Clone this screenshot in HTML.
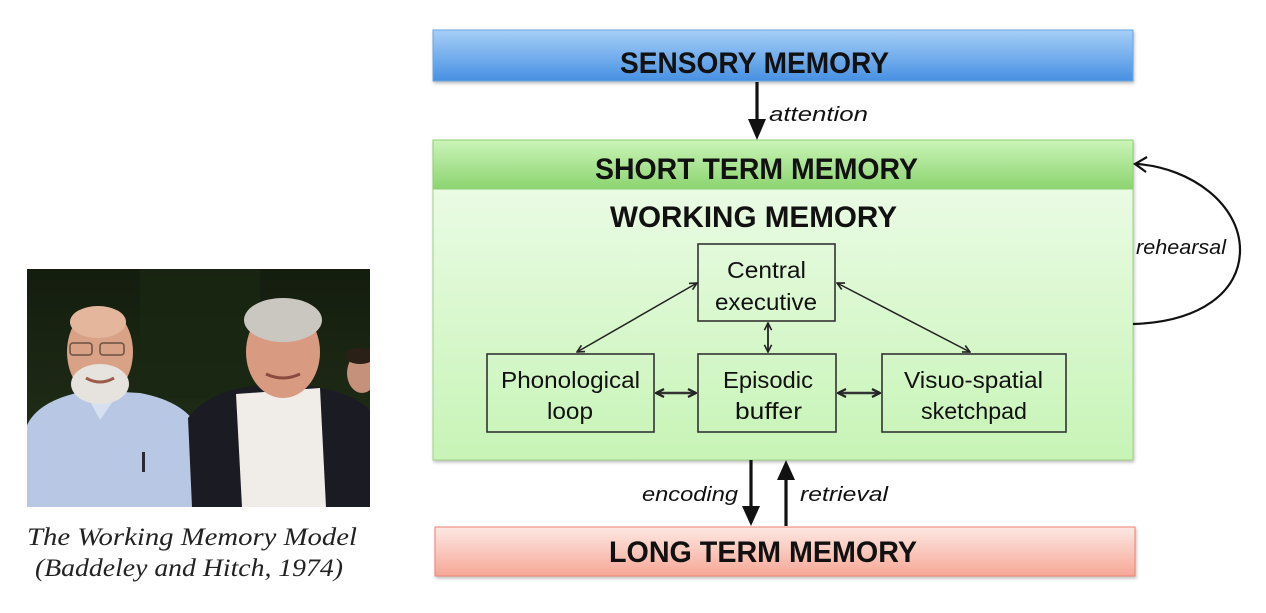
<!DOCTYPE html>
<html>
<head>
<meta charset="utf-8">
<style>
  html, body { margin: 0; padding: 0; background: #ffffff; }
  body { width: 1266px; height: 613px; overflow: hidden; }
  svg { display: block; }
</style>
</head>
<body>
<svg width="1266" height="613" viewBox="0 0 1266 613" xmlns="http://www.w3.org/2000/svg">
  <defs>
    <linearGradient id="gBlue" x1="0" y1="0" x2="0" y2="1">
      <stop offset="0" stop-color="#a6cff7"/>
      <stop offset="1" stop-color="#4790e2"/>
    </linearGradient>
    <linearGradient id="gHead" x1="0" y1="0" x2="0" y2="1">
      <stop offset="0" stop-color="#cbf5b8"/>
      <stop offset="1" stop-color="#8cd470"/>
    </linearGradient>
    <linearGradient id="gPanel" x1="0" y1="0" x2="0" y2="1">
      <stop offset="0" stop-color="#f0fcec"/>
      <stop offset="1" stop-color="#c7f4b6"/>
    </linearGradient>
    <linearGradient id="gRed" x1="0" y1="0" x2="0" y2="1">
      <stop offset="0" stop-color="#fde8e3"/>
      <stop offset="1" stop-color="#f6a796"/>
    </linearGradient>
    <linearGradient id="gPhotoBg" x1="0" y1="0" x2="0" y2="1">
      <stop offset="0" stop-color="#141d0e"/>
      <stop offset="1" stop-color="#24331a"/>
    </linearGradient>
    <clipPath id="photoClip">
      <rect x="27" y="269" width="343" height="238"/>
    </clipPath>
    <filter id="sh" x="-5%" y="-20%" width="110%" height="150%">
      <feDropShadow dx="1" dy="2" stdDeviation="1.5" flood-color="#000" flood-opacity="0.25"/>
    </filter>
    <marker id="chev" viewBox="0 0 10 10" refX="9" refY="5" markerWidth="9" markerHeight="9" markerUnits="userSpaceOnUse" orient="auto-start-reverse">
      <path d="M1,1 L9,5 L1,9" fill="none" stroke="#222" stroke-width="1.8"/>
    </marker>
    <marker id="chevB" viewBox="0 0 10 10" refX="9" refY="5" markerWidth="10" markerHeight="10" markerUnits="userSpaceOnUse" orient="auto-start-reverse">
      <path d="M1,1 L9,5 L1,9" fill="none" stroke="#222" stroke-width="2.2"/>
    </marker>
  </defs>

  <!-- ============ PHOTO ============ -->
  <g clip-path="url(#photoClip)">
    <rect x="27" y="269" width="343" height="238" fill="url(#gPhotoBg)"/>
    <rect x="140" y="269" width="120" height="130" fill="#1a2812" opacity="0.7"/>
    <!-- left person shirt -->
    <path d="M27,425 Q40,398 92,390 L140,393 Q188,402 200,432 L206,507 L27,507 Z" fill="#b8c8e4"/>
    <path d="M85,392 L100,420 L118,394 Z" fill="#d6e0f0"/>
    <rect x="142" y="452" width="3" height="20" fill="#2a2a35"/>
    <!-- left person head -->
    <ellipse cx="100" cy="352" rx="33" ry="45" fill="#d9a287"/>
    <ellipse cx="98" cy="322" rx="28" ry="16" fill="#e4b79d"/>
    <ellipse cx="100" cy="384" rx="29" ry="20" fill="#e6e2de"/>
    <path d="M86,378 Q100,386 114,378" stroke="#9b5a4a" stroke-width="3" fill="none"/>
    <rect x="70" y="343" width="22" height="12" rx="3" fill="none" stroke="#6a5040" stroke-width="1.5"/>
    <rect x="100" y="343" width="24" height="12" rx="3" fill="none" stroke="#6a5040" stroke-width="1.5"/>
    <!-- right person jacket -->
    <path d="M188,418 Q210,390 255,386 L310,386 Q352,392 370,410 L370,507 L192,507 Z" fill="#1b1b24"/>
    <!-- white shirt -->
    <path d="M236,394 L320,388 L326,507 L242,507 Z" fill="#f0ece8"/>
    <!-- right person head -->
    <ellipse cx="283" cy="352" rx="37" ry="46" fill="#d89a80"/>
    <ellipse cx="283" cy="320" rx="39" ry="22" fill="#cac7c1"/>
    <path d="M266,374 Q283,382 300,374" stroke="#8a4a40" stroke-width="3" fill="none"/>
    <!-- third face -->
    <ellipse cx="362" cy="373" rx="15" ry="20" fill="#c6917a"/>
    <ellipse cx="360" cy="356" rx="15" ry="8" fill="#2a2018"/>
  </g>

  <!-- caption -->
  <text x="27" y="545" font-family="Liberation Serif, serif" font-style="italic" font-size="25" fill="#222" textLength="330" lengthAdjust="spacingAndGlyphs">The Working Memory Model</text>
  <text x="35" y="576" font-family="Liberation Serif, serif" font-style="italic" font-size="25" fill="#222" textLength="308" lengthAdjust="spacingAndGlyphs">(Baddeley and Hitch, 1974)</text>

  <!-- ============ SENSORY MEMORY ============ -->
  <rect x="433" y="30" width="700" height="51" fill="url(#gBlue)" stroke="#6aa6e2" stroke-width="1" filter="url(#sh)"/>
  <text x="620" y="73" font-family="Liberation Sans, sans-serif" font-weight="bold" font-size="30" fill="#111" textLength="269" lengthAdjust="spacingAndGlyphs">SENSORY MEMORY</text>

  <!-- attention arrow -->
  <line x1="757" y1="82" x2="757" y2="120" stroke="#111" stroke-width="3.2"/>
  <polygon points="748,119 766,119 757,140" fill="#111"/>
  <text x="769" y="121" font-family="Liberation Sans, sans-serif" font-style="italic" font-size="20" fill="#111" textLength="99" lengthAdjust="spacingAndGlyphs">attention</text>

  <!-- ============ SHORT TERM MEMORY PANEL ============ -->
  <rect x="433" y="140" width="700" height="320" fill="url(#gPanel)" stroke="#9ed486" stroke-width="1" filter="url(#sh)"/>
  <rect x="433" y="140" width="700" height="49" fill="url(#gHead)" stroke="#8fcf74" stroke-width="1"/>
  <text x="595" y="179" font-family="Liberation Sans, sans-serif" font-weight="bold" font-size="30" fill="#111" textLength="323" lengthAdjust="spacingAndGlyphs">SHORT TERM MEMORY</text>
  <text x="610" y="227" font-family="Liberation Sans, sans-serif" font-weight="bold" font-size="30" fill="#111" textLength="287" lengthAdjust="spacingAndGlyphs">WORKING MEMORY</text>

  <!-- boxes -->
  <rect x="698" y="244" width="137" height="77" fill="none" stroke="#333" stroke-width="1.6"/>
  <text x="727" y="278" font-family="Liberation Sans, sans-serif" font-size="23" fill="#111" textLength="79" lengthAdjust="spacingAndGlyphs">Central</text>
  <text x="715" y="310" font-family="Liberation Sans, sans-serif" font-size="23" fill="#111" textLength="102" lengthAdjust="spacingAndGlyphs">executive</text>

  <rect x="487" y="354" width="167" height="78" fill="none" stroke="#333" stroke-width="1.6"/>
  <text x="501" y="388" font-family="Liberation Sans, sans-serif" font-size="23" fill="#111" textLength="139" lengthAdjust="spacingAndGlyphs">Phonological</text>
  <text x="547" y="419" font-family="Liberation Sans, sans-serif" font-size="23" fill="#111" textLength="46" lengthAdjust="spacingAndGlyphs">loop</text>

  <rect x="698" y="354" width="138" height="78" fill="none" stroke="#333" stroke-width="1.6"/>
  <text x="723" y="388" font-family="Liberation Sans, sans-serif" font-size="23" fill="#111" textLength="90" lengthAdjust="spacingAndGlyphs">Episodic</text>
  <text x="735" y="419" font-family="Liberation Sans, sans-serif" font-size="23" fill="#111" textLength="67" lengthAdjust="spacingAndGlyphs">buffer</text>

  <rect x="882" y="354" width="184" height="78" fill="none" stroke="#333" stroke-width="1.6"/>
  <text x="904" y="388" font-family="Liberation Sans, sans-serif" font-size="23" fill="#111" textLength="139" lengthAdjust="spacingAndGlyphs">Visuo-spatial</text>
  <text x="921" y="419" font-family="Liberation Sans, sans-serif" font-size="23" fill="#111" textLength="106" lengthAdjust="spacingAndGlyphs">sketchpad</text>

  <!-- internal arrows -->
  <line x1="697" y1="283" x2="577" y2="352" stroke="#222" stroke-width="1.5" marker-start="url(#chev)" marker-end="url(#chev)"/>
  <line x1="837" y1="283" x2="970" y2="352" stroke="#222" stroke-width="1.5" marker-start="url(#chev)" marker-end="url(#chev)"/>
  <line x1="768" y1="323" x2="768" y2="352" stroke="#222" stroke-width="1.8" marker-start="url(#chev)" marker-end="url(#chev)"/>
  <line x1="656" y1="393" x2="696" y2="393" stroke="#333" stroke-width="2.6" marker-start="url(#chevB)" marker-end="url(#chevB)"/>
  <line x1="838" y1="393" x2="880" y2="393" stroke="#333" stroke-width="2.6" marker-start="url(#chevB)" marker-end="url(#chevB)"/>

  <!-- rehearsal loop -->
  <path d="M1133,324 C1200,322 1240,292 1240,250 C1240,205 1192,168 1137,164" fill="none" stroke="#111" stroke-width="2.2"/>
  <path d="M1147,157 L1135,164 L1146,172" fill="none" stroke="#111" stroke-width="2.2"/>
  <text x="1136" y="254" font-family="Liberation Sans, sans-serif" font-style="italic" font-size="20" fill="#111" textLength="90" lengthAdjust="spacingAndGlyphs">rehearsal</text>

  <!-- encoding / retrieval -->
  <line x1="751" y1="460" x2="751" y2="507" stroke="#111" stroke-width="3.2"/>
  <polygon points="742,506 760,506 751,526" fill="#111"/>
  <line x1="786" y1="478" x2="786" y2="526" stroke="#111" stroke-width="3.2"/>
  <polygon points="777,480 795,480 786,460" fill="#111"/>
  <text x="642" y="501" font-family="Liberation Sans, sans-serif" font-style="italic" font-size="20" fill="#111" textLength="96" lengthAdjust="spacingAndGlyphs">encoding</text>
  <text x="800" y="501" font-family="Liberation Sans, sans-serif" font-style="italic" font-size="20" fill="#111" textLength="88" lengthAdjust="spacingAndGlyphs">retrieval</text>

  <!-- ============ LONG TERM MEMORY ============ -->
  <rect x="435" y="527" width="700" height="49" fill="url(#gRed)" stroke="#ee8373" stroke-width="1" filter="url(#sh)"/>
  <text x="609" y="562" font-family="Liberation Sans, sans-serif" font-weight="bold" font-size="30" fill="#111" textLength="308" lengthAdjust="spacingAndGlyphs">LONG TERM MEMORY</text>
</svg>
</body>
</html>
